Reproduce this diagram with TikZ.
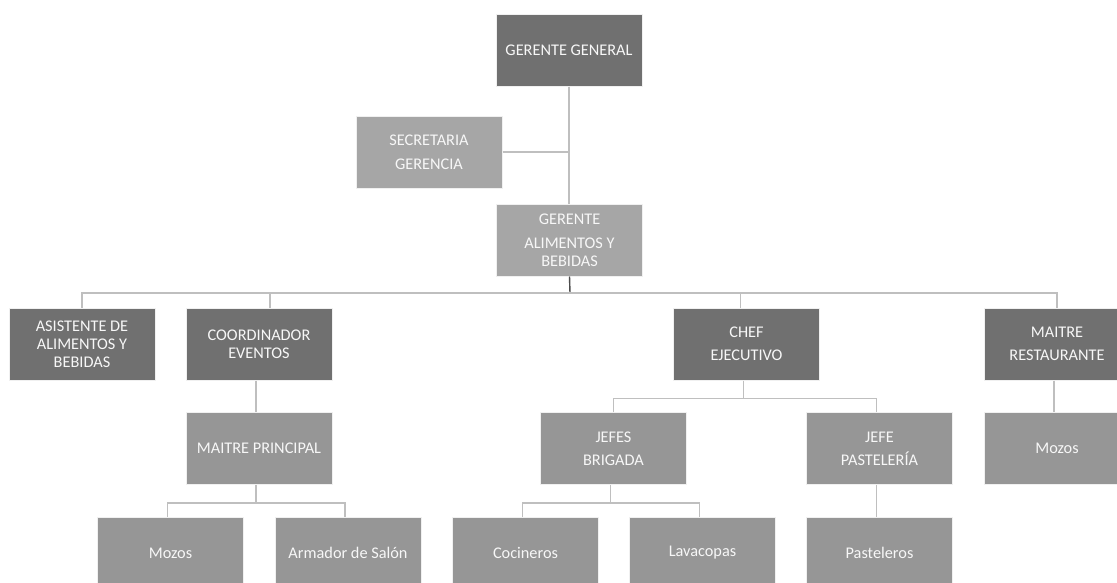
\documentclass[tikz,border=0pt]{standalone}
\usepackage{fontspec}
\setmainfont{Carlito}
\begin{document}
\begin{tikzpicture}[x=1pt,y=-1pt,
  box/.style={draw=white!88!gray, line width=1pt, text=white!94!gray, align=center,
    inner sep=0pt, minimum width=146pt, minimum height=72pt,
    font=\fontsize{16.3}{18}\selectfont},
  boxdark/.style={box, fill=black!56},
  boxlight/.style={box, fill=black!35},
  boxmid/.style={box, fill=black!41},
  conn/.style={draw=black!25, line width=1.4pt},
  conndark/.style={draw=black!70, line width=1.4pt}]
\useasboundingbox[fill=white] (0,0) rectangle (1117,582);

% top management
\node[boxdark]  (gg)  at (569,50)    {GERENTE GENERAL};
\node[boxlight] (sec) at (429,152)   {SECRETARIA\\[6pt]GERENCIA};
\node[boxlight] (gab) at (569.5,240) {GERENTE\\[6pt]ALIMENTOS Y\\BEBIDAS};

% department heads
\node[boxdark] (asi) at (82,344)    {ASISTENTE DE\\ALIMENTOS Y\\BEBIDAS};
\node[boxdark] (coo) at (259,344)   {COORDINADOR\\EVENTOS};
\node[boxdark] (che) at (746.5,344) {CHEF\\[5pt]EJECUTIVO};
\node[boxdark] (mre) at (1057,344)  {MAITRE\\[5pt]RESTAURANTE};

% supervisors
\node[boxmid] (mpr)  at (259,448.5)   {MAITRE PRINCIPAL};
\node[boxmid] (jbr)  at (613.5,448.5) {JEFES\\[5pt]BRIGADA};
\node[boxmid] (jpa)  at (879.5,448.5) {JEFE\\[5pt]PASTELERÍA};
\node[boxmid] (mozr) at (1057,448.5)  {Mozos};

% staff
\node[boxmid] (moz1) at (170.5,553) {Mozos};
\node[boxmid] (arm)  at (348,553)   {Armador de Salón};
\node[boxmid] (coc)  at (525.5,553) {Cocineros};
\node[boxmid] (lav)  at (702.5,553) {Lavacopas};
\node[boxmid] (pas)  at (879.5,553) {Pasteleros};

% connectors
\draw[conn] (gg.south) -- (gg.south |- gab.north);
\draw[conn] (sec.east) -- (sec.east -| gg.south);
\coordinate (bus) at (570,293);
\draw[conndark] (gab.south) -- (bus);
\draw[conn] (asi.north) |- (bus) -| (mre.north);
\draw[conn] ([xshift=11pt]coo.north) -- ([xshift=11pt]coo.north |- bus);
\draw[conn] ([xshift=-6pt]che.north) -- ([xshift=-6pt]che.north |- bus);

\draw[conn] ([xshift=-3pt]coo.south) -- ([xshift=-3pt]mpr.north);
\draw[conn] ([xshift=-3pt]che.south) -- ++(0,18) coordinate (cb);
\draw[conn] (jbr.north) |- (cb) -| ([xshift=-3pt]jpa.north);
\draw[conn] ([xshift=-3pt]mre.south) -- ([xshift=-3pt]mozr.north);

\draw[conn] ([xshift=-3pt]mpr.south) -- ++(0,18) coordinate (mb);
\draw[conn] ([xshift=-3pt]moz1.north) |- (mb) -| ([xshift=-3pt]arm.north);
\draw[conn] ([xshift=-3pt]jbr.south) -- ++(0,18) coordinate (jb);
\draw[conn] ([xshift=-3pt]coc.north) |- (jb) -| ([xshift=-3pt]lav.north);
\draw[conn] ([xshift=-3pt]jpa.south) -- ([xshift=-3pt]pas.north);
\end{tikzpicture}
\end{document}
